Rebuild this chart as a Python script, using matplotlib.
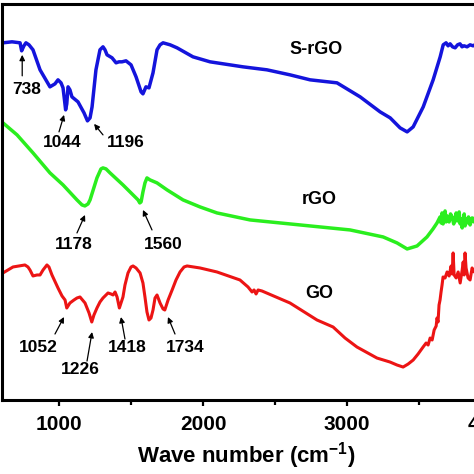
import matplotlib
matplotlib.use("Agg")
import matplotlib.pyplot as plt
import numpy as np

plt.rcParams['font.family'] = ['Liberation Sans', 'DejaVu Sans']
plt.rcParams['font.weight'] = 'bold'
plt.rcParams['mathtext.fontset'] = 'custom'
plt.rcParams['mathtext.rm'] = 'Liberation Sans:bold'
plt.rcParams['mathtext.it'] = 'Liberation Sans:bold'
plt.rcParams['mathtext.bf'] = 'Liberation Sans:bold'
plt.rcParams['mathtext.default'] = 'rm'

# ---- data (wavenumber cm^-1, transmittance a.u.) ----
srgo_wn = [608, 671, 727, 738, 754, 768, 789, 817, 866, 935, 970, 991, 1012, 1026, 1036,
           1044, 1052, 1061, 1074, 1088, 1130, 1172, 1196, 1214, 1228, 1255, 1283, 1304,
           1318, 1332, 1367, 1395, 1415, 1436, 1464, 1499, 1534, 1569, 1582, 1603, 1624,
           1652, 1680, 1701, 1722, 1771, 1819, 1930, 2049, 2278, 2445, 2605, 2745, 2932,
           3093, 3232, 3302, 3371, 3420, 3462, 3532, 3601, 3650, 3671, 3691, 3705, 3719,
           3736, 3754, 3771, 3788, 3802, 3816, 3837, 3858, 3879, 3903, 3928, 3960, 3997]
srgo_t = [357, 358, 357, 349, 354, 357, 355, 350, 330, 313, 316, 320, 317, 312, 300,
          290, 296, 313, 310, 303, 298, 287, 279, 282, 293, 330, 350, 353,
          350, 345, 342, 337, 338, 338, 339, 335, 323, 308, 306, 313, 312,
          327, 350, 355, 357, 355, 352, 343, 338, 333, 330, 325, 320, 317,
          303, 288, 282, 272, 268, 273, 293, 320, 343, 355, 357, 354, 356,
          353, 352, 355, 356, 353, 354, 353, 355, 354, 356, 355, 354, 354]

rgo_wn = [608, 706, 817, 935, 1026, 1123, 1158, 1178, 1200, 1214, 1262, 1290, 1304,
          1325, 1353, 1443, 1513, 1548, 1560, 1569, 1582, 1596, 1610, 1631, 1680,
          1750, 1861, 1979, 2097, 2327, 2675, 3023, 3253, 3350, 3420, 3489, 3558,
          3600, 3628, 3649, 3656, 3663, 3670, 3677, 3684, 3691, 3698, 3712, 3722,
          3733, 3744, 3754, 3761, 3768, 3775, 3782, 3789, 3796, 3803, 3810, 3817,
          3823, 3830, 3837, 3847, 3858, 3872, 3886, 3900, 3914, 3928, 3950, 3975, 3997]
rgo_t = [277, 265, 247, 227, 215, 200, 195, 194, 196, 200, 222, 231, 232,
         231, 227, 215, 205, 200, 197, 198, 208, 217, 222, 220, 217,
         210, 200, 193, 187, 180, 175, 170, 163, 157, 151, 154, 163,
         171, 177, 183, 177, 187, 176, 180, 189, 178, 184, 178, 186,
         183, 176, 181, 187, 179, 184, 188, 176, 181, 172, 179, 186,
         174, 181, 177, 183, 175, 182, 178, 186, 177, 181, 176, 183, 179]

go_wn = [608, 678, 761, 782, 796, 817, 845, 866, 887, 914, 928, 949, 991, 1019, 1040,
         1052, 1074, 1102, 1123, 1144, 1179, 1207, 1226, 1241, 1262, 1283, 1304, 1339,
         1360, 1374, 1388, 1402, 1418, 1443, 1457, 1478, 1499, 1513, 1534, 1562, 1582,
         1596, 1610, 1624, 1638, 1652, 1666, 1680, 1701, 1722, 1734, 1757, 1785, 1812,
         1840, 1868, 1889, 1979, 2097, 2257, 2313, 2341, 2355, 2369, 2383, 2410, 2605,
         2793, 2905, 2988, 3071, 3210, 3301, 3350, 3392, 3427, 3462, 3496, 3531, 3552,
         3566, 3580, 3594, 3608, 3622, 3628, 3635, 3642, 3649, 3656, 3663, 3670, 3684,
         3698, 3712, 3726, 3733, 3740, 3747, 3761, 3775, 3789, 3803, 3810, 3817, 3823,
         3830, 3844, 3858, 3872, 3886, 3907, 3928, 3950, 3975, 3997]
go_t = [127, 133, 135, 133, 130, 124, 125, 125, 130, 135, 133, 125, 112, 104, 100,
        92, 97, 100, 102, 103, 97, 87, 78, 85, 92, 98, 102, 107,
        106, 105, 108, 103, 92, 103, 115, 127, 133, 134, 132, 127, 117,
        103, 88, 80, 82, 90, 102, 105, 97, 91, 90, 100, 110, 120,
        128, 133, 134, 132, 128, 120, 113, 108, 110, 106, 110, 109, 97,
        80, 73, 62, 53, 42, 38, 35, 33, 36, 40, 46, 53, 57,
        55, 62, 60, 70, 74, 82, 78, 95, 100, 108, 115, 123, 122,
        128, 124, 134, 126, 147, 125, 122, 128, 117, 130, 138, 125, 147,
        132, 122, 120, 132, 128, 136, 125, 131, 124, 128]

peak_labels = ['738', '1044', '1196', '1178', '1560', '1052', '1226', '1418', '1734']
series_names = ['S-rGO', 'rGO', 'GO']

fig = plt.figure(figsize=(4.74, 4.74), dpi=100)
ax = fig.add_axes([0.0038, 0.156, 1.031, 0.836])

ax.plot(srgo_wn, srgo_t, color='#1414dc', lw=2.5, solid_joinstyle='round')
ax.plot(rgo_wn, rgo_t, color='#2aee1e', lw=2.5, solid_joinstyle='round')
ax.plot(go_wn, go_t, color='#ec1414', lw=2.2, solid_joinstyle='round')

ax.set_xlim(600, 4000)
ax.set_ylim(0, 396)

# annotations: (label, arrow tail, arrow tip, text position)
ann = [
    (peak_labels[0], (742, 324), (742, 345), (770, 310)),
    (peak_labels[1], (998, 268), (1033, 285), (1019, 257)),
    (peak_labels[2], (1304, 265), (1242, 276), (1464, 257)),
    (peak_labels[3], (1123, 167), (1179, 185), (1102, 155)),
    (peak_labels[4], (1645, 170), (1582, 190), (1722, 155)),
    (peak_labels[5], (970, 66), (1033, 83), (852, 53)),
    (peak_labels[6], (1193, 39), (1228, 68), (1144, 31)),
    (peak_labels[7], (1457, 61), (1429, 83), (1471, 53)),
    (peak_labels[8], (1805, 66), (1756, 83), (1875, 53)),
]
for lab, tail, tip, tpos in ann:
    ax.annotate('', xy=tip, xytext=tail,
                arrowprops=dict(arrowstyle='-|>', color='black', lw=0.9,
                                mutation_scale=8, shrinkA=0, shrinkB=0))
    ax.text(tpos[0], tpos[1], lab, ha='center', va='center', fontsize=12.5,
            fontweight='bold')

for name, pos in zip(series_names, [(2786, 350), (2807, 200), (2807, 106)]):
    ax.text(pos[0], pos[1], name, ha='center', va='center', fontsize=13,
            fontweight='bold')

for s in ax.spines.values():
    s.set_linewidth(2.2)

ax.set_xticks([1000, 2000, 3000, 4000])
ax.set_xticks([1500, 2500, 3500], minor=True)
ax.tick_params(axis='x', which='major', direction='out', length=4.5, width=1.6,
               labelsize=15, pad=6)
ax.tick_params(axis='x', which='minor', direction='out', length=3.5, width=1.6)
for t in ax.get_xticklabels():
    t.set_fontweight('bold')
ax.set_yticks([])
ax.set_xlabel(r'Wave number (cm$^{-1}$)', fontsize=16, fontweight='bold', labelpad=5)

fig.savefig('out.png', dpi=100)
